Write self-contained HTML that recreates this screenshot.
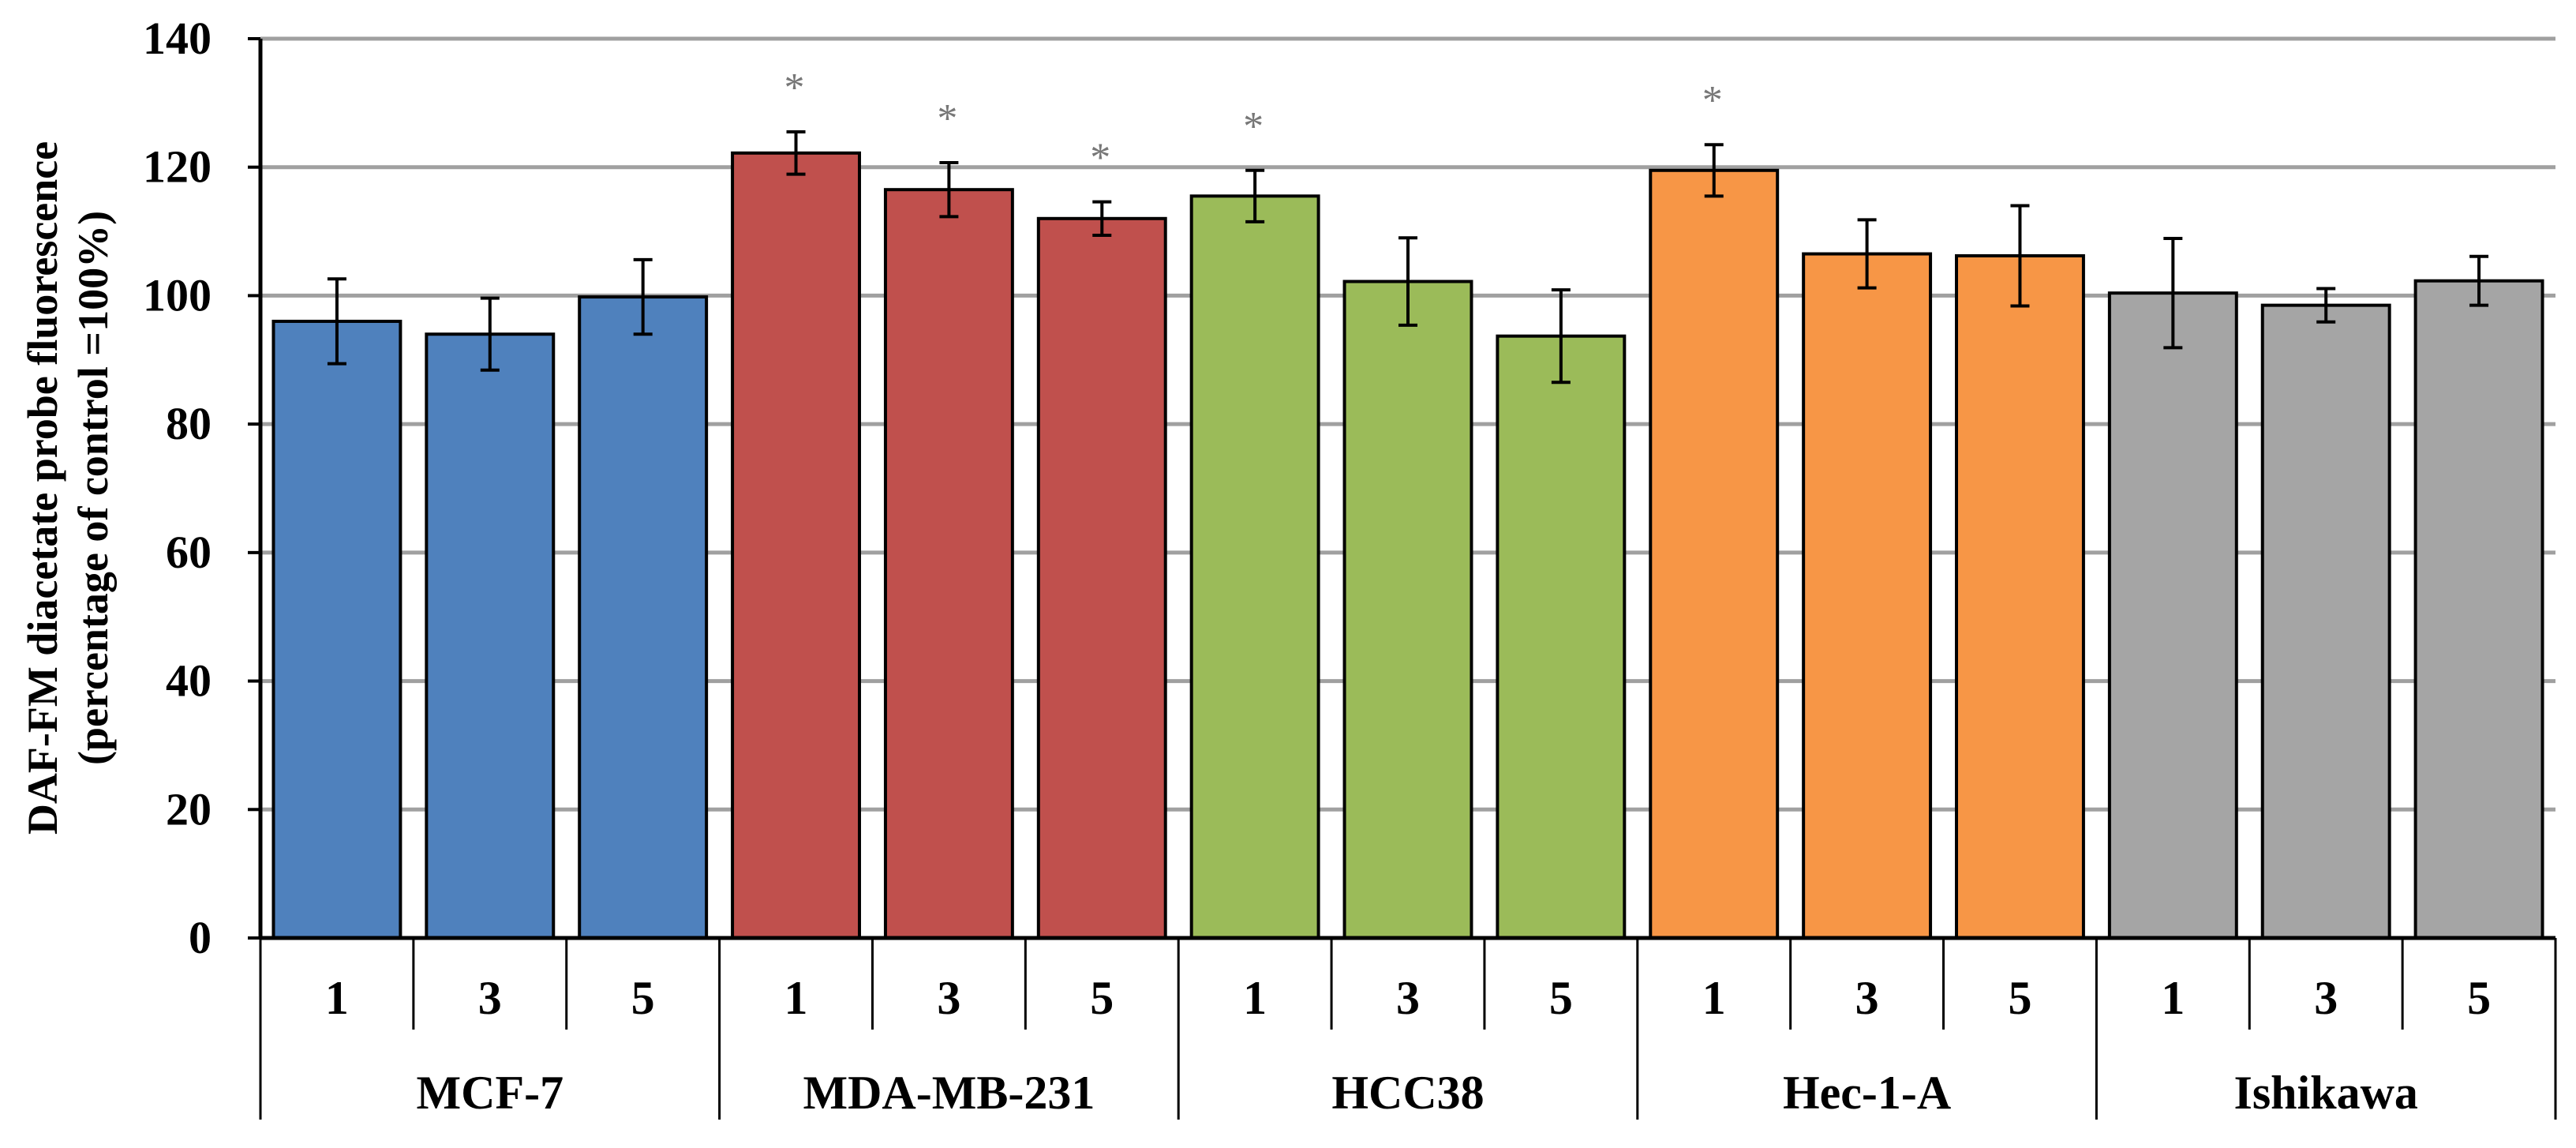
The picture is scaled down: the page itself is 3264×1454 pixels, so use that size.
<!DOCTYPE html>
<html><head><meta charset="utf-8"><style>
html,body{margin:0;padding:0;background:#fff;}
svg{display:block;font-family:"Liberation Serif",serif;}
</style></head><body>
<svg id="chart" width="3264" height="1454" viewBox="0 0 3264 1454" xmlns="http://www.w3.org/2000/svg">
<g id="grid"></g>
<g id="bars"></g>
<g id="axis"></g>
<g id="ytitle" font-weight="bold" font-size="54" text-anchor="middle">
<text transform="translate(72,618) rotate(-90)">DAF-FM diacetate probe fluorescence</text>
<text transform="translate(136,618) rotate(-90)">(percentage of control =100%)</text>
</g>
</svg>
<script>
const groups = ["MCF-7","MDA-MB-231","HCC38","Hec-1-A","Ishikawa"];
const doses = ["1","3","5"];
const values = [96,94,99.8, 122.2,116.5,112, 115.5,102.2,93.7, 119.5,106.5,106.2, 100.4,98.5,102.3];
const errors = [6.6,5.6,5.8, 3.3,4.2,2.6, 4,6.8,7.2, 4,5.3,7.8, 8.5,2.6,3.8];
const significant = [0,0,0, 1,1,1, 1,0,0, 1,0,0, 0,0,0];
const yTicks = [0,20,40,60,80,100,120,140];
const colors = ["#4f81bd","#c0504d","#9bbb59","#f79646","#a5a5a5"];

const NS="http://www.w3.org/2000/svg";
const x0=330, x1=3238, y0=1188, yTop=49, yMax=140;
const slot=(x1-x0)/values.length;
function y(v){return y0-(v/yMax)*(y0-yTop);}
function xs(i){return x0+i*slot;}
function mk(tag,attrs,parent){const e=document.createElementNS(NS,tag);for(const k in attrs)e.setAttribute(k,attrs[k]);parent.appendChild(e);return e;}
const grid=document.getElementById('grid'),bars=document.getElementById('bars'),axis=document.getElementById('axis');

yTicks.forEach(t=>{
  if(t>0){const l=mk('line',{x1:x0,x2:x1,y1:y(t),y2:y(t),stroke:'#a0a0a0','stroke-width':5},grid);
  
  }
  const tk=mk('line',{x1:x0-16,x2:x0,y1:y(t),y2:y(t),stroke:'#000','stroke-width':4},axis);
  
  
  const tx=mk('text',{x:268,y:y(t)+19,'text-anchor':'end','font-size':58,'font-weight':'bold'},axis);
  tx.textContent=t;
  
  
});

values.forEach((v,i)=>{
  const g=Math.floor(i/3);
  const bw=slot*0.83, bx=xs(i)+(slot-bw)/2, cx=xs(i)+slot/2;
  const r=mk('rect',{x:bx,y:y(v),width:bw,height:y0-y(v),fill:colors[g],stroke:'#000','stroke-width':4},bars);
  
  
  const e=errors[i];
  const eg=mk('g',{stroke:'#000','stroke-width':4},bars);
  
  
  mk('line',{x1:cx,x2:cx,y1:y(v+e),y2:y(v-e)},eg);
  mk('line',{x1:cx-12,x2:cx+12,y1:y(v+e),y2:y(v+e)},eg);
  mk('line',{x1:cx-12,x2:cx+12,y1:y(v-e),y2:y(v-e)},eg);
  if(significant[i]){
    const s=mk('text',{x:cx-2,y:y(v+e+7.5)+22,'text-anchor':'middle','font-size':52,fill:'#777'},bars);
    s.textContent='*';
    
    
  }
  // dose label
  const dl=mk('text',{x:cx,y:1284,'text-anchor':'middle','font-size':60,'font-weight':'bold'},axis);
  dl.textContent=doses[i%3];
  
  
  if(i%3!==0){
    const sep=mk('line',{x1:xs(i),x2:xs(i),y1:y0,y2:1304,stroke:'#000','stroke-width':3},axis);
    
    
  }
});
groups.forEach((gname,g)=>{
  const gl=mk('text',{x:xs(g*3)+slot*1.5,y:1404,'text-anchor':'middle','font-size':60,'font-weight':'bold'},axis);
  gl.textContent=gname;
  
  
});
for(let g=0;g<=groups.length;g++){
  const sep=mk('line',{x1:xs(g*3),x2:xs(g*3),y1:y0,y2:1418,stroke:'#000','stroke-width':3},axis);
  
  
}
const ya=mk('line',{x1:x0,x2:x0,y1:yTop,y2:y0,stroke:'#000','stroke-width':5},axis);


const xa=mk('line',{x1:x0,x2:x1,y1:y0,y2:y0,stroke:'#000','stroke-width':5},axis);


</script>
</body></html>
